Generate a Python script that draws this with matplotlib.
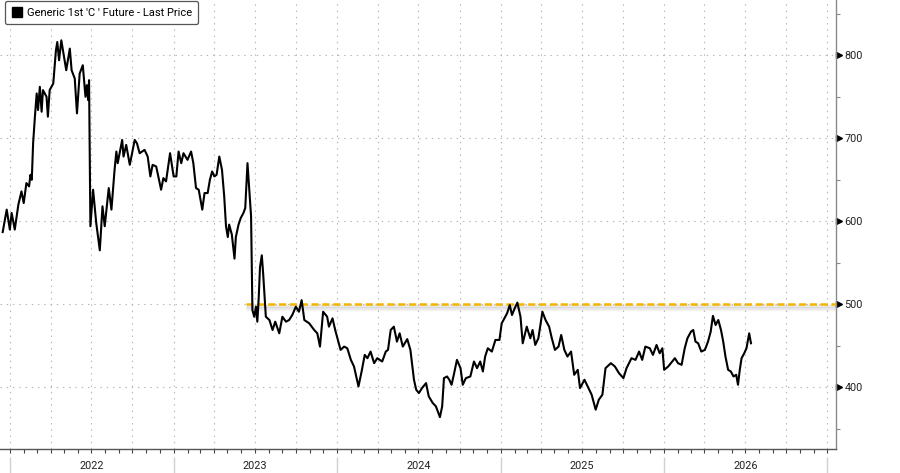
import pandas as pd
import matplotlib
matplotlib.use('Agg')
import matplotlib.pyplot as plt
import matplotlib.dates as mdates
import matplotlib.transforms as mtransforms
from matplotlib.lines import Line2D
from matplotlib.ticker import MultipleLocator, NullFormatter

plt.rcParams['font.family'] = ['Roboto', 'DejaVu Sans']
plt.rcParams['lines.scale_dashes'] = False

# Generic 1st corn future, last price
dates = [
    '2021-12-15', '2021-12-24', '2021-12-31', '2022-01-04', '2022-01-11', '2022-01-19',
    '2022-01-26', '2022-01-31', '2022-02-06', '2022-02-12', '2022-02-15', '2022-02-18',
    '2022-02-21', '2022-02-25', '2022-03-01', '2022-03-04', '2022-03-08', '2022-03-12',
    '2022-03-15', '2022-03-23', '2022-03-26', '2022-03-30', '2022-04-07', '2022-04-13',
    '2022-04-16', '2022-04-20', '2022-04-25', '2022-05-01', '2022-05-06', '2022-05-14',
    '2022-05-18', '2022-05-25', '2022-05-30', '2022-06-05', '2022-06-12', '2022-06-18',
    '2022-06-21', '2022-06-24', '2022-06-26', '2022-06-29', '2022-07-05', '2022-07-12',
    '2022-07-20', '2022-07-26', '2022-07-31', '2022-08-09', '2022-08-15', '2022-08-22',
    '2022-08-26', '2022-08-29', '2022-09-08', '2022-09-11', '2022-09-17', '2022-09-25',
    '2022-10-06', '2022-10-11', '2022-10-17', '2022-10-28', '2022-11-04', '2022-11-10',
    '2022-11-15', '2022-11-23', '2022-12-04', '2022-12-09', '2022-12-15', '2022-12-24',
    '2023-01-01', '2023-01-07', '2023-01-12', '2023-01-18', '2023-01-23', '2023-02-01',
    '2023-02-09', '2023-02-14', '2023-02-20', '2023-02-26', '2023-03-06', '2023-03-11',
    '2023-03-18', '2023-03-23', '2023-03-28', '2023-04-02', '2023-04-07', '2023-04-13',
    '2023-04-19', '2023-04-24', '2023-04-28', '2023-05-02', '2023-05-05', '2023-05-11',
    '2023-05-17', '2023-05-20', '2023-05-26', '2023-05-31', '2023-06-06', '2023-06-10',
    '2023-06-15', '2023-06-19', '2023-06-23', '2023-06-26', '2023-06-30', '2023-07-04',
    '2023-07-07', '2023-07-10', '2023-07-13', '2023-07-17', '2023-07-20', '2023-07-26',
    '2023-08-03', '2023-08-10', '2023-08-16', '2023-08-25', '2023-09-01', '2023-09-09',
    '2023-09-16', '2023-09-23', '2023-10-01', '2023-10-08', '2023-10-14', '2023-10-20',
    '2023-10-31', '2023-11-11', '2023-11-18', '2023-11-24', '2023-12-01', '2023-12-10',
    '2023-12-14', '2023-12-22', '2023-12-28', '2024-01-02', '2024-01-09', '2024-01-17',
    '2024-01-24', '2024-02-01', '2024-02-08', '2024-02-18', '2024-02-25', '2024-03-03',
    '2024-03-09', '2024-03-16', '2024-03-24', '2024-03-31', '2024-04-11', '2024-04-19',
    '2024-04-24', '2024-04-30', '2024-05-07', '2024-05-14', '2024-05-20', '2024-05-27',
    '2024-06-06', '2024-06-13', '2024-06-21', '2024-06-26', '2024-07-02', '2024-07-09',
    '2024-07-18', '2024-07-24', '2024-08-02', '2024-08-09', '2024-08-18', '2024-08-23',
    '2024-08-27', '2024-09-03', '2024-09-08', '2024-09-13', '2024-09-18', '2024-09-25',
    '2024-10-03', '2024-10-08', '2024-10-15', '2024-10-25', '2024-11-02', '2024-11-09',
    '2024-11-16', '2024-11-22', '2024-11-27', '2024-12-03', '2024-12-12', '2024-12-20',
    '2024-12-29', '2025-01-03', '2025-01-09', '2025-01-15', '2025-01-21', '2025-01-26',
    '2025-02-01', '2025-02-07', '2025-02-14', '2025-02-19', '2025-02-28', '2025-03-08',
    '2025-03-13', '2025-03-19', '2025-03-26', '2025-04-04', '2025-04-11', '2025-04-19',
    '2025-04-25', '2025-05-02', '2025-05-10', '2025-05-16', '2025-05-23', '2025-05-30',
    '2025-06-07', '2025-06-14', '2025-06-22', '2025-06-27', '2025-07-07', '2025-07-16',
    '2025-07-23', '2025-08-01', '2025-08-08', '2025-08-16', '2025-08-23', '2025-09-04',
    '2025-09-13', '2025-09-22', '2025-10-02', '2025-10-09', '2025-10-20', '2025-10-29',
    '2025-11-06', '2025-11-13', '2025-11-20', '2025-11-30', '2025-12-07', '2025-12-15',
    '2025-12-22', '2025-12-28', '2026-01-01', '2026-01-10', '2026-01-19', '2026-01-25',
    '2026-02-01', '2026-02-09', '2026-02-16', '2026-02-22', '2026-03-02', '2026-03-07',
    '2026-03-12', '2026-03-18', '2026-03-25', '2026-04-02', '2026-04-09', '2026-04-15',
    '2026-04-20', '2026-04-26', '2026-05-02', '2026-05-08', '2026-05-13', '2026-05-18',
    '2026-05-24', '2026-05-30', '2026-06-05', '2026-06-11', '2026-06-15', '2026-06-19',
    '2026-06-23', '2026-06-29', '2026-07-04', '2026-07-10', '2026-07-14',
]
prices = [
    587, 614, 590, 610, 590, 620,
    636, 622, 646, 642, 656, 650,
    694, 726, 754, 734, 762, 732,
    758, 750, 726, 758, 766, 806,
    816, 794, 818, 798, 782, 808,
    782, 772, 730, 778, 788, 750,
    764, 746, 770, 594, 638, 598,
    565, 618, 594, 640, 614, 662,
    684, 670, 698, 678, 692, 668,
    698, 694, 682, 686, 678, 654,
    668, 666, 638, 652, 648, 682,
    654, 654, 684, 670, 682, 674,
    684, 670, 640, 638, 614, 634,
    634, 650, 660, 654, 656, 678,
    662, 630, 594, 581, 596, 584,
    555, 581, 596, 604, 610, 616,
    670, 638, 606, 493, 485, 497,
    479, 507, 545, 559, 537, 485,
    481, 469, 479, 465, 485, 479,
    481, 487, 497, 491, 505, 481,
    477, 469, 465, 449, 491, 485,
    473, 483, 469, 459, 445, 449,
    447, 433, 425, 401, 419, 439,
    435, 443, 429, 435, 431, 443,
    445, 469, 473, 455, 465, 449,
    458, 445, 409, 397, 393, 399,
    405, 389, 381, 377, 364, 377,
    411, 413, 409, 403, 415, 433,
    423, 403, 411, 413, 431, 423,
    431, 419, 437, 447, 443, 457,
    457, 477, 483, 489, 499, 487,
    495, 502, 485, 453, 473, 459,
    469, 451, 459, 491, 481, 473,
    459, 445, 449, 463, 445, 437,
    443, 415, 421, 399, 409, 399,
    391, 373, 385, 391, 423, 429,
    425, 417, 411, 423, 435, 433,
    443, 433, 449, 447, 439, 451,
    441, 447, 421, 425, 431, 435,
    429, 427, 447, 459, 467, 469,
    455, 453, 443, 445, 455, 467,
    486, 475, 481, 469, 455, 437,
    421, 419, 413, 415, 403, 421,
    435, 441, 447, 465, 453,
]

level = 500
level_start = '2023-06-12'
years = [2022, 2023, 2024, 2025, 2026]
legend_label = "Generic 1st 'C ' Future - Last Price"

x_min, x_max = pd.Timestamp('2021-12-09'), pd.Timestamp('2027-01-20')
y_min, y_max = 325.6, 866.6

fig = plt.figure(figsize=(9, 4.73), dpi=100)
ax = fig.add_axes([0, 24 / 473, 836 / 900, 449 / 473])
ax.set_xlim(x_min, x_max)
ax.set_ylim(y_min, y_max)

grid_color = '#b5b5b5'
ax.xaxis.set_major_locator(mdates.MonthLocator(bymonth=[1, 4, 7, 10]))
ax.xaxis.set_minor_locator(mdates.MonthLocator())
ax.xaxis.set_major_formatter(NullFormatter())
ax.tick_params(axis='x', which='both', length=3, width=0.8, color='#444444')
ax.grid(True, axis='x', which='major', color=grid_color, ls=(0, (1, 3.5)), lw=0.8)

ax.yaxis.tick_right()
ax.yaxis.set_major_locator(MultipleLocator(100))
ax.yaxis.set_minor_locator(MultipleLocator(50))
ax.tick_params(axis='y', which='major', length=0, pad=6, labelsize=7.8, labelcolor='#222222')
ax.tick_params(axis='y', which='minor', length=3, width=0.8, color='#888888')
ax.grid(True, axis='y', which='major', color=grid_color, ls=(0, (1, 3.5)), lw=0.8)

for side in ['left', 'top']:
    ax.spines[side].set_visible(False)
ax.spines['right'].set_color('#8a8a8a')
ax.spines['bottom'].set_color('#555555')
ax.spines['right'].set_linewidth(1.0)
ax.spines['bottom'].set_linewidth(1.0)

# triangle tick marks on the price axis
yt = [v for v in range(400, 900, 100)]
tri = mtransforms.offset_copy(ax.get_yaxis_transform(), fig=fig, x=3, units='dots')
ax.plot([1.0] * len(yt), yt, ls='', marker='>', ms=4, color='black',
        transform=tri, clip_on=False)

# year separators and labels under the axis
xt = ax.get_xaxis_transform()
ax.vlines([pd.Timestamp(f'{y}-01-01') for y in years + [years[-1] + 1]],
          -0.018, -0.054, transform=xt, color='#d0d0d0', lw=1.0, clip_on=False)
for y in years:
    ax.text(pd.Timestamp(f'{y}-07-02'), -0.038, str(y), transform=xt,
            ha='center', va='center', fontsize=7.8, color='#222222')

# price line
ax.plot(pd.to_datetime(dates), prices, color='black', lw=1.5, zorder=4,
        solid_joinstyle='round')

# 500 level with soft shadow
lx = [pd.Timestamp(level_start), x_max]
for off, a in [(2, 0.16), (3.5, 0.11), (5, 0.06)]:
    tr = mtransforms.offset_copy(ax.transData, fig=fig, y=-off, units='dots')
    ax.plot(lx, [level, level], color='gray', lw=2.5, alpha=a, transform=tr,
            solid_capstyle='butt', zorder=2)
ax.plot(lx, [level, level], color='#f5b400', lw=1.8, dashes=(5.2, 2.6),
        zorder=3)

handle = Line2D([], [], ls='', marker='s', ms=7.5, color='black')
leg = ax.legend([handle], [legend_label], loc='upper left',
                bbox_to_anchor=(5 / 836, 1 - 1 / 449), borderaxespad=0,
                fontsize=8, handlelength=0.9, handletextpad=0.45,
                borderpad=0.6, fancybox=True, framealpha=1)
leg.get_frame().set_edgecolor('#555555')
leg.get_frame().set_linewidth(0.9)

fig.savefig('out.png', dpi=100)
